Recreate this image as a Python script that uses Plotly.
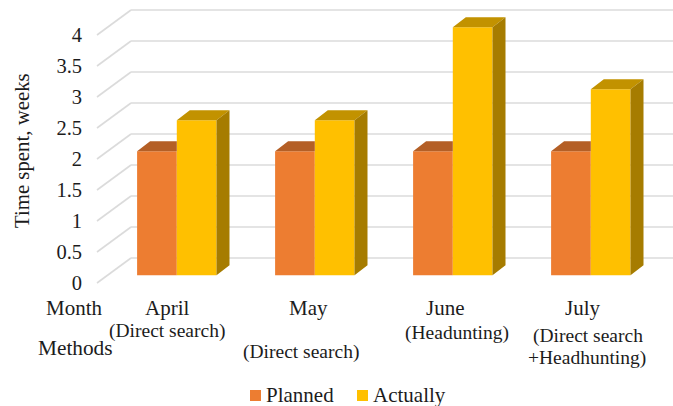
import plotly.graph_objects as go

# Recruitment time per month and search method
months = ["April", "May", "June", "July"]
methods = ["(Direct search)", "(Direct search)", "(Headunting)", "(Direct search", "+Headhunting)"]
series_names = ["Planned", "Actually"]
planned = [2, 2, 2, 2]
actually = [2.5, 2.5, 4, 3]
ticks = [0, 0.5, 1, 1.5, 2, 2.5, 3, 3.5, 4]
tick_labels = ["0", "0.5", "1", "1.5", "2", "2.5", "3", "3.5", "4"]

W, H = 673, 406
FONT = "Liberation Serif"
INK = "#1c1c1c"
ORANGE, GOLD = "#ED7D31", "#FFC000"

# Plot scale: one category step and one week, in pixels
STEP, WEEK = 138.0, 62.0
ORIGIN_X, ORIGIN_Y = 176.8, 275.3


def px_x(v):
    return (v - ORIGIN_X) / STEP


def py_y(v):
    return (ORIGIN_Y - v) / WEEK


bar_w = 39.7 / STEP
dx, dy = 13 / STEP, 10 / WEEK
xs = list(range(len(months)))

x_range = [px_x(0), px_x(W)]
y_range = [py_y(H), py_y(0)]


def polygons(rings):
    px, py = [], []
    for ring in rings:
        px += [p[0] for p in ring] + [ring[0][0], None]
        py += [p[1] for p in ring] + [ring[0][1], None]
    return px, py


def face(rings, color):
    px, py = polygons(rings)
    return go.Scatter(x=px, y=py, mode="lines", fill="toself", fillcolor=color,
                      line=dict(width=0, color=color), showlegend=False, hoverinfo="skip")


fig = go.Figure()
fig.add_bar(x=xs, y=planned, name=series_names[0], width=bar_w, offset=-bar_w,
            marker=dict(color=ORANGE, line_width=0), showlegend=False)
fig.add_bar(x=xs, y=actually, name=series_names[1], width=bar_w, offset=0,
            marker=dict(color=GOLD, line_width=0), showlegend=False)

# Top of the planned bars stops where the neighbouring bar begins
fig.add_trace(face([[(x - bar_w, v), (x, v), (x, v + dy), (x - bar_w + dx, v + dy)]
                    for x, v in zip(xs, planned)], "#B45F26"))
fig.add_trace(face([[(x, v), (x + bar_w, v), (x + bar_w + dx, v + dy), (x + dx, v + dy)]
                    for x, v in zip(xs, actually)], "#C29200"))
fig.add_trace(face([[(x + bar_w, 0), (x + bar_w + dx, dy), (x + bar_w + dx, v + dy), (x + bar_w, v)]
                    for x, v in zip(xs, actually)], "#A67C00"))

# Holder for the value axis, which sits on the front edge of the side wall
fig.add_trace(go.Scatter(x=[0], y=[0], yaxis="y2", mode="markers", marker=dict(opacity=0),
                         showlegend=False, hoverinfo="skip"))

# Compact key under the plot: tight swatch-to-label spacing
for name, color, sx in zip(series_names, [ORANGE, GOLD], [255.5, 362.5]):
    fig.add_trace(go.Scatter(x=[px_x(sx)], y=[py_y(395.5)], mode="markers", name=name,
                             marker=dict(symbol="square", size=11, color=color, line_width=0),
                             showlegend=False, hoverinfo="skip"))

# Back wall and side wall gridlines
wall_front, wall_back = px_x(97), px_x(131)
front_drop, back_rise = 7.7 / WEEK, 17.3 / WEEK
grid = dict(color="#DBDBDB", width=1.6)
shapes = []
for t in ticks:
    shapes.append(dict(type="line", layer="below", xref="x", yref="y", x0=wall_back, x1=x_range[1],
                       y0=t + back_rise, y1=t + back_rise, line=grid))
    shapes.append(dict(type="line", layer="below", xref="x", yref="y", x0=wall_front, x1=wall_back,
                       y0=t - front_drop, y1=t + back_rise, line=grid))


def label(text, cx, cy, size, anchor="center", angle=0):
    return dict(text=text, x=cx / W, y=1 - cy / H, xref="paper", yref="paper", xanchor=anchor,
                yanchor="middle", showarrow=False, textangle=angle,
                font=dict(family=FONT, size=size, color=INK))


month_pos = [167, 308, 445.5, 583]
method_pos = [(167, 331), (300.5, 352), (457, 333), (587.5, 336), (587, 358)]
key_pos = [264, 371]
annotations = [label("Month", 74.5, 308, 21), label("Methods", 75, 348, 21.3),
               label("Time spent, weeks", 22, 151, 20.8, angle=-90)]
annotations += [label(m, c, 308, 21) for m, c in zip(months, month_pos)]
annotations += [label(m, *p, 19.5) for m, p in zip(methods, method_pos)]
annotations += [label(n, k, 395, 21, anchor="left") for n, k in zip(series_names, key_pos)]

fig.update_layout(
    width=W, height=H, autosize=False, showlegend=False,
    margin=dict(l=0, r=0, t=0, b=0, autoexpand=False),
    paper_bgcolor="white", plot_bgcolor="white",
    barmode="overlay", shapes=shapes, annotations=annotations,
    font=dict(family=FONT, color=INK),
    xaxis=dict(range=x_range, domain=[0, 1], visible=False, fixedrange=True),
    yaxis=dict(range=y_range, domain=[0, 1], visible=False, fixedrange=True),
    yaxis2=dict(range=[y_range[0] + front_drop, y_range[1] + front_drop], overlaying="y", anchor="free",
                position=82 / W, side="left", tickmode="array", tickvals=ticks, ticktext=tick_labels,
                tickfont=dict(family=FONT, size=20.5, color=INK), showgrid=False, zeroline=False,
                showline=False, ticks="", fixedrange=True, automargin=False),
)

fig.write_html("out.html", config=dict(displayModeBar=False))
